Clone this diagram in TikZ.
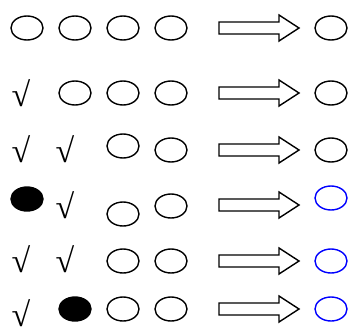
\documentclass[tikz,border=0pt]{standalone}
\usepackage{fontspec}
\setmainfont{Liberation Serif}
\usetikzlibrary{shapes.geometric}
\begin{document}
\begin{tikzpicture}[x=1pt,y=-1pt,
  ov/.style={draw=black,line width=1.4pt,ellipse,minimum width=32pt,minimum height=24pt,inner sep=0pt},
  ovfill/.style={ov,fill=black},
  ovblue/.style={ov,draw=blue},
  chk/.style={inner sep=0pt,font=\fontsize{34}{34}\selectfont},
  bigarrow/.style={draw=black,line width=1.4pt,fill=white,line join=miter}]
\useasboundingbox (0,0) rectangle (350,327);
% row 1
\node[ov] (a1) at (27,28) {};
\node[ov] (b1) at (75,28) {};
\node[ov] (c1) at (123,28) {};
\node[ov] (d1) at (171,28) {};
% row 2
\node[chk] (a2) at (21,93) {√};
\node[ov] (b2) at (75,93) {};
\node[ov] (c2) at (123,93) {};
\node[ov] (d2) at (171,93) {};
% row 3
\node[chk] (a3) at (21,149) {√};
\node[chk] (b3) at (65,149) {√};
\node[ov] (c3) at (123,146) {};
\node[ov] (d3) at (171,150) {};
% row 4
\node[ovfill] (a4) at (27,199) {};
\node[chk] (b4) at (65,205) {√};
\node[ov] (c4) at (123,214) {};
\node[ov] (d4) at (171,206) {};
% row 5
\node[chk] (a5) at (21,259) {√};
\node[chk] (b5) at (65,259) {√};
\node[ov] (c5) at (123,261) {};
\node[ov] (d5) at (171,261) {};
% row 6
\node[chk] (a6) at (21,313) {√};
\node[ovfill] (b6) at (75,309) {};
\node[ov] (c6) at (123,309) {};
\node[ov] (d6) at (171,309) {};
% arrows
\foreach \y in {28,93,150,205,261,309}{
  \draw[bigarrow] (219,\y-6) -- (279,\y-6) -- (279,\y-13) -- (299,\y) -- (279,\y+13) -- (279,\y+6) -- (219,\y+6) -- cycle;
}
% results
\node[ov] (r1) at (331,28) {};
\node[ov] (r2) at (331,93) {};
\node[ov] (r3) at (331,150) {};
\node[ovblue] (r4) at (331,198) {};
\node[ovblue] (r5) at (331,261) {};
\node[ovblue] (r6) at (331,309) {};
\end{tikzpicture}
\end{document}
